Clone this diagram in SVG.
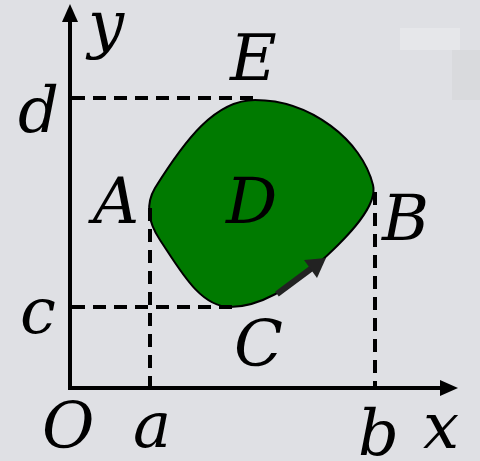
<svg xmlns="http://www.w3.org/2000/svg" width="480" height="461" viewBox="0 0 480 461">
<style>
.axis{stroke:#000;stroke-width:4;fill:none}
.dash{stroke:#000;stroke-width:4;stroke-dasharray:13,8;fill:none}
.lbl{font-family:'DejaVu Serif',serif;font-style:italic;font-size:64px;fill:#000}
</style>
<rect width="480" height="461" fill="#dfe0e4"/>
<rect x="400" y="28" width="60" height="22" fill="#e6e7ea"/>
<rect x="452" y="50" width="28" height="50" fill="#d9dadd"/>
<g id="region">
<path d="M255,100 C310,100 362,140 373,185 C378,205 350,235 320,262 C290,288 260,307 230,307 C200,307 180,270 160,240 C148,222 145,205 155,188 C185,140 215,100 255,100 Z" fill="#007a00" stroke="#000" stroke-width="2"/>
</g>
<g id="connectors">
<path class="dash" d="M72,98 H255"/>
<path class="dash" d="M72,307 H240"/>
<path class="dash" d="M150,208 V386"/>
<path class="dash" d="M375,192 V386"/>
<path d="M70,390 V22" class="axis"/>
<path d="M62,22 L70,4 L78,22 Z" fill="#000"/>
<path d="M68,388 H440" class="axis"/>
<path d="M440,380 L458,388 L440,396 Z" fill="#000"/>
<path d="M277,294 L312,268" stroke="#222" stroke-width="6" fill="none"/>
<path d="M304,260 L326,258 L317,278 Z" fill="#222"/>
</g>
<g id="labels">
<text class="lbl" x="88" y="46">y</text>
<text class="lbl" x="230" y="80">E</text>
<text class="lbl" x="18" y="132">d</text>
<text class="lbl" x="93" y="223">A</text>
<text class="lbl" x="226" y="223">D</text>
<text class="lbl" x="382" y="240">B</text>
<text class="lbl" x="20" y="333">c</text>
<text class="lbl" x="234" y="366">C</text>
<text class="lbl" x="42" y="448">O</text>
<text class="lbl" x="133" y="447">a</text>
<text class="lbl" x="358" y="455">b</text>
<text class="lbl" x="423" y="448">x</text>
</g>
</svg>
